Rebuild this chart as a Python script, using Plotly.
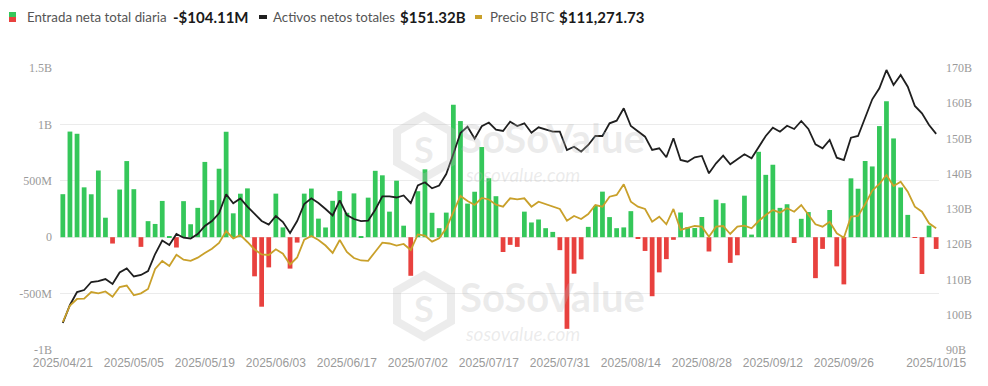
import plotly.graph_objects as go
import pandas as pd

# ---------------- data ----------------
HOLIDAYS = ["2025-05-26", "2025-06-19", "2025-07-04", "2025-09-01"]
trading_days = [d for d in pd.bdate_range("2025-04-21", "2025-10-15")
                if d.strftime("%Y-%m-%d") not in HOLIDAYS]
dates = [d.strftime("%Y/%m/%d") for d in trading_days]

# Daily total net inflow (millions USD)
net_inflow_m = [
    381.4, 936.4, 916.9, 442.0, 380.6, 591.2, 172.8, -56.2, 422.5, 674.9,
    425.5, -85.6, 142.3, 117.5, 321.5, 5.0, -91.4, 319.6, 114.9, 260.2,
    667.4, 329.0, 607.1, 934.8, 211.7, 385.7, 432.7, -346.8, -616.1, -267.5,
    386.3, 86.9, -278.4, -47.8, 386.3, 431.1, 164.6, 86.3, 322.6, 408.6,
    216.5, 388.3, 6.4, 350.7, 588.6, 548.7, 226.6, 501.1, 102.1, -342.2,
    407.8, 601.8, 216.5, 80.1, 218.0, 1175.0, 1029.6, 297.9, 403.0, 799.4,
    522.6, 363.5, -131.4, -68.0, -85.9, 226.6, 130.7, 157.0, 80.0, 47.0,
    -114.8, -812.3, -323.5, -196.2, 91.6, 277.4, 403.9, 178.2, 80.0, 86.9,
    230.9, -14.1, -121.8, -523.3, -311.8, -194.3, -23.2, 219.0, 88.2, 81.3,
    179.0, -126.6, 332.7, 301.3, -227.6, -160.2, 368.2, 23.0, 757.1, 552.8,
    642.4, 260.0, 292.3, -51.3, 163.1, 222.9, -363.1, -103.6, 241.0, -258.4,
    -418.3, 521.9, 429.9, 675.8, 627.2, 985.1, 1205.0, 875.6, 440.7, 197.8,
    -4.5, -326.5, 102.6, -104.1,
]

# Total net assets (billions USD)
total_assets_b = [
    97.66, 102.77, 106.45, 107.02, 109.29, 109.57, 110.14, 108.72, 111.99, 113.12,
    110.85, 111.28, 112.41, 117.23, 121.06, 119.79, 122.91, 121.86, 121.63, 122.91,
    125.18, 126.60, 128.78, 134.20, 131.62, 132.98, 130.65, 128.58, 126.60, 125.60,
    128.01, 126.31, 123.19, 126.60, 131.42, 133.04, 131.70, 130.00, 128.16, 132.47,
    128.30, 127.16, 126.54, 126.68, 129.80, 133.60, 133.60, 133.26, 133.83, 131.70,
    136.67, 137.60, 135.87, 136.67, 139.93, 145.60, 151.56, 153.35, 149.94, 153.49,
    154.54, 152.50, 152.13, 154.77, 153.55, 154.31, 151.65, 153.18, 152.61, 151.93,
    151.93, 146.74, 147.67, 146.26, 148.16, 150.71, 150.71, 154.31, 155.05, 158.57,
    153.55, 151.93, 150.51, 146.74, 147.22, 144.67, 150.06, 143.90, 143.42, 144.67,
    145.04, 140.13, 142.96, 145.12, 142.68, 144.10, 145.52, 144.38, 147.73, 150.71,
    153.06, 151.93, 153.63, 152.70, 154.96, 152.70, 148.35, 147.22, 149.57, 144.55,
    143.90, 150.23, 150.71, 156.19, 161.12, 164.24, 169.43, 165.18, 168.01, 164.70,
    159.22, 157.15, 153.83, 151.32,
]

# BTC price (USD)
btc_price = [
    87490, 91680, 93330, 93400, 95100, 94770, 95230, 93910, 96370, 96750,
    94270, 94770, 95860, 100940, 102970, 101700, 104570, 103300, 103020, 103810,
    105000, 106090, 107540, 110580, 108680, 109520, 107790, 105890, 104620, 104490,
    105940, 104820, 102080, 103860, 108380, 109320, 108300, 106900, 105000, 108300,
    105250, 103730, 103100, 103020, 105330, 107620, 107410, 106900, 107290, 105760,
    109700, 109440, 107870, 108730, 111270, 115480, 119470, 118200, 117180, 118960,
    118580, 117260, 116750, 118880, 118630, 118880, 116750, 118020, 117360, 116750,
    116170, 113200, 114390, 113630, 114900, 117180, 116750, 119290, 119720, 122440,
    118020, 116750, 116170, 112950, 114210, 112290, 116170, 110840, 111270, 111850,
    111680, 109140, 111680, 111850, 109820, 111680, 111930, 111270, 113120, 114650,
    115910, 115230, 116350, 115480, 117180, 114650, 112290, 111680, 112950, 110000,
    108880, 114210, 114390, 117360, 120810, 122510, 124800, 122010, 123100, 120560,
    116750, 115480, 112540, 111271.73,
]

left_tickvals = [-1000, -500, 0, 500, 1000, 1500]
left_ticktext = ["-1B", "-500M", "0", "500M", "1B", "1.5B"]
right_tickvals = [90, 100, 110, 120, 130, 140, 150, 160, 170]
right_ticktext = ["90B", "100B", "110B", "120B", "130B", "140B", "150B", "160B", "170B"]
x_tick_idx = [0, 10, 20, 30, 40, 50, 60, 70, 80, 90, 100, 110, 123]

legend_labels = ["Entrada neta total diaria", "Activos netos totales", "Precio BTC"]
legend_values = ["-$104.11M", "$151.32B", "$111,271.73"]

# ---------------- styling ----------------
GREEN = "#35c75a"
RED = "#e8413e"
BLACK = "#1f1f1f"
GOLD = "#c9a02a"
W, H = 988, 386
L, R, T, B = 60, 49, 68, 36
PW, PH = W - L - R, H - T - B


def px_x(px):
    return (px - L) / PW


def px_y(py):
    return (H - B - py) / PH


bar_colors = [GREEN if v >= 0 else RED for v in net_inflow_m]

fig = go.Figure()
fig.add_trace(go.Bar(x=dates, y=net_inflow_m, marker=dict(color=bar_colors, line=dict(width=0)),
                     yaxis="y", name=legend_labels[0]))
fig.add_trace(go.Scatter(x=dates, y=btc_price, mode="lines", line=dict(color=GOLD, width=1.8),
                         yaxis="y3", name=legend_labels[2]))
fig.add_trace(go.Scatter(x=dates, y=total_assets_b, mode="lines", line=dict(color=BLACK, width=1.8),
                         yaxis="y2", name=legend_labels[1]))

tickfont_serif = dict(family="Liberation Serif, DejaVu Serif, serif", size=12, color="#9a9a9a")

fig.update_layout(
    width=W, height=H,
    margin=dict(l=L, r=R, t=T, b=B),
    paper_bgcolor="white", plot_bgcolor="white",
    showlegend=False,
    bargap=0.33,
    xaxis=dict(type="category", range=[-0.4, 123.4],
               tickvals=[dates[i] for i in x_tick_idx],
               ticktext=[dates[i] for i in x_tick_idx],
               tickangle=0, ticklabelstandoff=4,
               showgrid=False, showline=False, zeroline=False, ticks="",
               tickfont=dict(family="Liberation Sans, Arial, sans-serif", size=12, color="#9a9a9a")),
    yaxis=dict(range=[-1000, 1500], tickvals=left_tickvals, ticktext=left_ticktext,
               showgrid=True, gridcolor="#ebebeb", gridwidth=1, zeroline=False,
               showline=False, ticks="", tickfont=tickfont_serif, ticklabelstandoff=7),
    yaxis2=dict(range=[90, 170], tickvals=right_tickvals, ticktext=right_ticktext,
                overlaying="y", side="right", showgrid=False, zeroline=False,
                showline=False, ticks="", tickfont=tickfont_serif, ticklabelstandoff=6),
    yaxis3=dict(range=[80380, 151950], overlaying="y", visible=False),
    font=dict(family="Lato, Noto Sans, sans-serif"),
)

shapes = []
annotations = []

# ---- legend ----
ly = 17
shapes.append(dict(type="rect", xref="paper", yref="paper",
                   x0=px_x(9), x1=px_x(16), y0=px_y(17), y1=px_y(12),
                   fillcolor=GREEN, line=dict(width=0)))
shapes.append(dict(type="rect", xref="paper", yref="paper",
                   x0=px_x(9), x1=px_x(16), y0=px_y(22), y1=px_y(17),
                   fillcolor=RED, line=dict(width=0)))
shapes.append(dict(type="line", xref="paper", yref="paper",
                   x0=px_x(259), x1=px_x(267), y0=px_y(ly), y1=px_y(ly),
                   line=dict(color=BLACK, width=4)))
shapes.append(dict(type="line", xref="paper", yref="paper",
                   x0=px_x(475), x1=px_x(482), y0=px_y(ly), y1=px_y(ly),
                   line=dict(color=GOLD, width=4)))

legend_label_x = [26, 272, 489]
legend_value_x = [172, 399, 558]
for lx, vx, lab, val in zip(legend_label_x, legend_value_x, legend_labels, legend_values):
    annotations.append(dict(
        xref="paper", yref="paper", x=px_x(lx), y=px_y(ly), xanchor="left", yanchor="middle",
        showarrow=False, borderpad=0, text=lab,
        font=dict(family="Lato, Noto Sans, sans-serif", size=13.3, color="#555555")))
    annotations.append(dict(
        xref="paper", yref="paper", x=px_x(vx), y=px_y(ly), xanchor="left", yanchor="middle",
        showarrow=False, borderpad=0, text=f"<b>{val}</b>",
        font=dict(family="Lato, Noto Sans, sans-serif", size=15, color="#1a1a1a")))

# ---- watermarks ----
wm_col = "rgba(185,185,185,0.28)"
for cy in (147, 306):
    cx = 424
    r = 31
    pts = [(cx, cy - r), (cx + 0.87 * r, cy - 0.5 * r), (cx + 0.87 * r, cy + 0.5 * r),
           (cx, cy + r), (cx - 0.87 * r, cy + 0.5 * r), (cx - 0.87 * r, cy - 0.5 * r)]
    path = "M " + " L ".join(f"{px_x(p[0])},{px_y(p[1])}" for p in pts) + " Z"
    shapes.append(dict(type="path", xref="paper", yref="paper", path=path,
                       line=dict(color=wm_col, width=8), fillcolor="rgba(0,0,0,0)", layer="above"))
    annotations.append(dict(xref="paper", yref="paper", x=px_x(cx), y=px_y(cy + 2),
                            xanchor="center", yanchor="middle", showarrow=False,
                            text="<b>S</b>", font=dict(family="Lato, sans-serif", size=36, color=wm_col)))
    annotations.append(dict(xref="paper", yref="paper", x=px_x(459), y=px_y(cy - 9),
                            xanchor="left", yanchor="middle", showarrow=False, borderpad=0,
                            text="<b>SoSoValue</b>",
                            font=dict(family="Lato, sans-serif", size=40, color=wm_col)))
    annotations.append(dict(xref="paper", yref="paper", x=px_x(464), y=px_y(cy + 27),
                            xanchor="left", yanchor="middle", showarrow=False, borderpad=0,
                            text="<i>sosovalue.com</i>",
                            font=dict(family="Lato, sans-serif", size=19, color=wm_col)))

fig.update_layout(shapes=shapes, annotations=annotations)

fig.write_html("out.html", config={"displayModeBar": False},
               post_script="document.body.style.margin='0px';")
